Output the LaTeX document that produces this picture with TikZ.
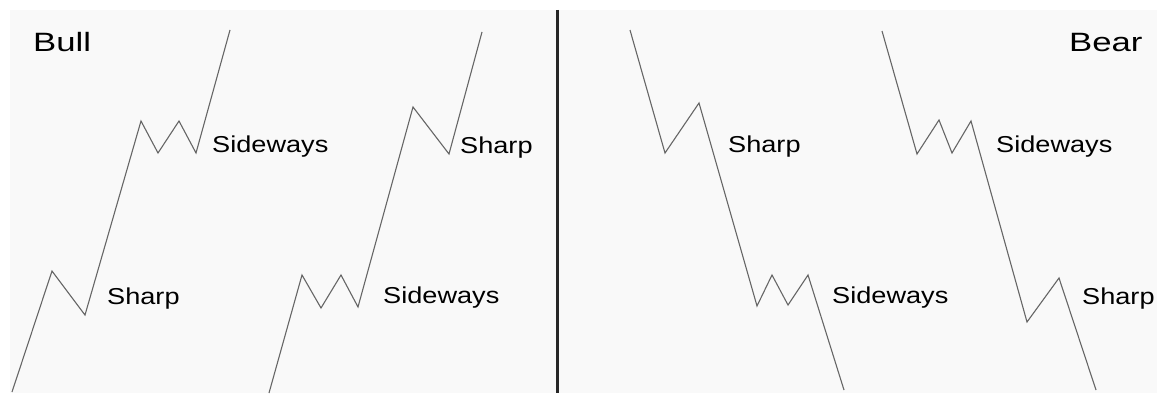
\documentclass[tikz,border=0pt]{standalone}
\usepackage{fontspec}
\setmainfont{Liberation Sans}
\tikzset{
  trend/.style={draw=black!60, line width=1.1pt, line join=miter},
  lbl/.style={anchor=base west, inner sep=0pt, font=\fontsize{23}{26}\selectfont, text=black},
  ttl/.style={anchor=base west, inner sep=0pt, font=\fontsize{26.5}{30}\selectfont, text=black}
}
\newcommand{\lx}[1]{\scalebox{1.18}[1]{#1}}
\newcommand{\tx}[1]{\scalebox{1.31}[1]{#1}}
\begin{document}
\begin{tikzpicture}[x=1pt,y=-1pt]
\useasboundingbox (0,0) rectangle (1157,396);
\fill[white] (0,0) rectangle (1157,396);
\fill[black!2.5] (10,10) rectangle (1157,393);
% divider
\draw[black!85, line width=3pt] (557.5,10) -- (557.5,393);
% Bull line 1
\draw[trend] (12,392) -- (52,271) -- (85,315) -- (141,121) -- (158,153) -- (179,121) -- (196,153) -- (230,30);
% Bull line 2
\draw[trend] (269,393) -- (302,275) -- (321,308) -- (341,275) -- (358,307) -- (413,107) -- (449,154) -- (482,32);
% Bear line 1
\draw[trend] (630,30) -- (665,153) -- (699,103) -- (757,306) -- (772,275) -- (788,305) -- (808,275) -- (844,390);
% Bear line 2
\draw[trend] (882,31) -- (917,154) -- (939,120) -- (952,153) -- (971,121) -- (1027,322) -- (1059,278) -- (1096,390);
% titles
\node[ttl] (bull) at (33,52) {\tx{Bull}};
\node[ttl] (bear) at (1069,52) {\tx{Bear}};
% labels
\node[lbl] (s1) at (107,304) {\lx{Sharp}};
\node[lbl] (w1) at (212,152) {\lx{Sideways}};
\node[lbl] (w2) at (383,303) {\lx{Sideways}};
\node[lbl] (s2) at (460,153) {\lx{Sharp}};
\node[lbl] (s3) at (728,152) {\lx{Sharp}};
\node[lbl] (w3) at (832,303) {\lx{Sideways}};
\node[lbl] (w4) at (996,152) {\lx{Sideways}};
\node[lbl] (s4) at (1082,304) {\lx{Sharp}};
\end{tikzpicture}
\end{document}
